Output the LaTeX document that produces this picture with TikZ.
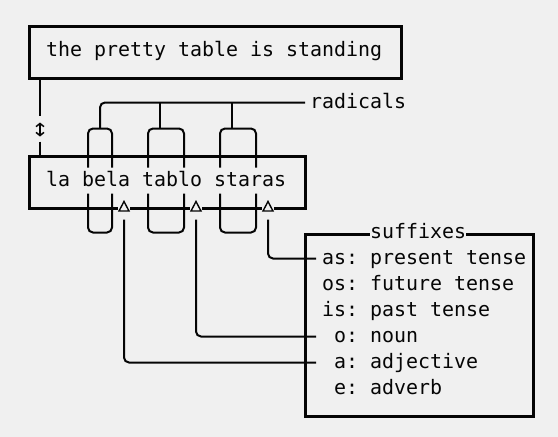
\documentclass[tikz,border=0pt]{standalone}
\usepackage{fontspec}
\setmonofont{DejaVu Sans Mono}
\usetikzlibrary{arrows.meta}
\definecolor{bgcol}{RGB}{240,240,240}
\definecolor{ink}{RGB}{5,5,5}
\tikzset{
  txt/.style={anchor=base west, inner sep=0pt, text=ink,
    font=\fontsize{19.93}{24}\selectfont\ttfamily},
  boxn/.style={draw=ink, line width=3.2pt, rectangle, inner sep=0pt, anchor=north west},
  wire/.style={draw=ink, line width=2pt, rounded corners=5pt},
  tri/.style={draw=ink, line width=1.4pt, fill=bgcol, line join=miter}
}
\begin{document}
\begin{tikzpicture}[x=1pt,y=-1pt]
\path[fill=bgcol] (0,0) rectangle (558,437);
\useasboundingbox (0,0) rectangle (558,437);

% boxes
\node[boxn, minimum width=372pt, minimum height=52pt] (topbox) at (28,24.5) {};
\node[boxn, minimum width=276pt, minimum height=52pt] (midbox) at (28,154.5) {};
\node[boxn, minimum width=228pt, minimum height=182pt] (sufbox) at (304,232.5) {};

% texts
\node[txt] (eng) at (46,56.5) {the pretty table is standing};
\node[txt] (esp) at (46,186.5) {la bela tablo staras};
\node[txt] (rad) at (310,108.5) {radicals};
\node[txt, fill=bgcol] (suf) at (370,238.5) {suffixes};
\node[txt] (s1) at (322,264.5) {as: present tense};
\node[txt] (s2) at (322,290.5) {os: future tense};
\node[txt] (s3) at (322,316.5) {is: past tense};
\node[txt] (s4) at (334,342.5) {o: noun};
\node[txt] (s5) at (334,368.5) {a: adjective};
\node[txt] (s6) at (334,394.5) {e: adverb};

% translation connector
\coordinate (c1) at (40,115.5);
\coordinate (c2) at (40,141.5);
\draw[wire] (topbox.south west -| c1) -- (c1);
\draw[wire] (c2) -- (midbox.north west -| c2);
\draw[draw=ink, line width=1.5pt, {Straight Barb[length=3.2pt,width=8pt]}-{Straight Barb[length=3.2pt,width=8pt]}] (40,122.5) -- (40,136.5);

% radical loops (upper halves, lower halves)
\draw[wire] (88,167.5) -- (88,128.5) -- (112,128.5) -- (112,167.5);
\draw[wire] (88,193.5) -- (88,232.5) -- (112,232.5) -- (112,193.5);
\draw[wire] (148,167.5) -- (148,128.5) -- (184,128.5) -- (184,167.5);
\draw[wire] (148,193.5) -- (148,232.5) -- (184,232.5) -- (184,193.5);
\draw[wire] (220,167.5) -- (220,128.5) -- (256,128.5) -- (256,167.5);
\draw[wire] (220,193.5) -- (220,232.5) -- (256,232.5) -- (256,193.5);

% radicals connector
\coordinate (radend) at (305,102.5);
\draw[wire] (100,128.5) -- (100,102.5) -- (radend);
\draw[wire] (160,102.5) -- (160,128.5);
\draw[wire] (232,102.5) -- (232,128.5);

% suffix markers
\foreach \x/\n in {124/ta,196/tb,268/tc}{
  \fill[bgcol] (\x-6,202.5) rectangle (\x+6,211);
  \draw[tri] (\x-5,211) -- (\x+5,211) -- (\x,201.5) -- cycle;
  \coordinate (\n) at (\x,219.5);
}

% suffix connectors
\draw[wire] (ta) -- (124,362.5) -- (316,362.5);
\draw[wire] (tb) -- (196,336.5) -- (316,336.5);
\draw[wire] (tc) -- (268,258.5) -- (316,258.5);
\end{tikzpicture}
\end{document}
